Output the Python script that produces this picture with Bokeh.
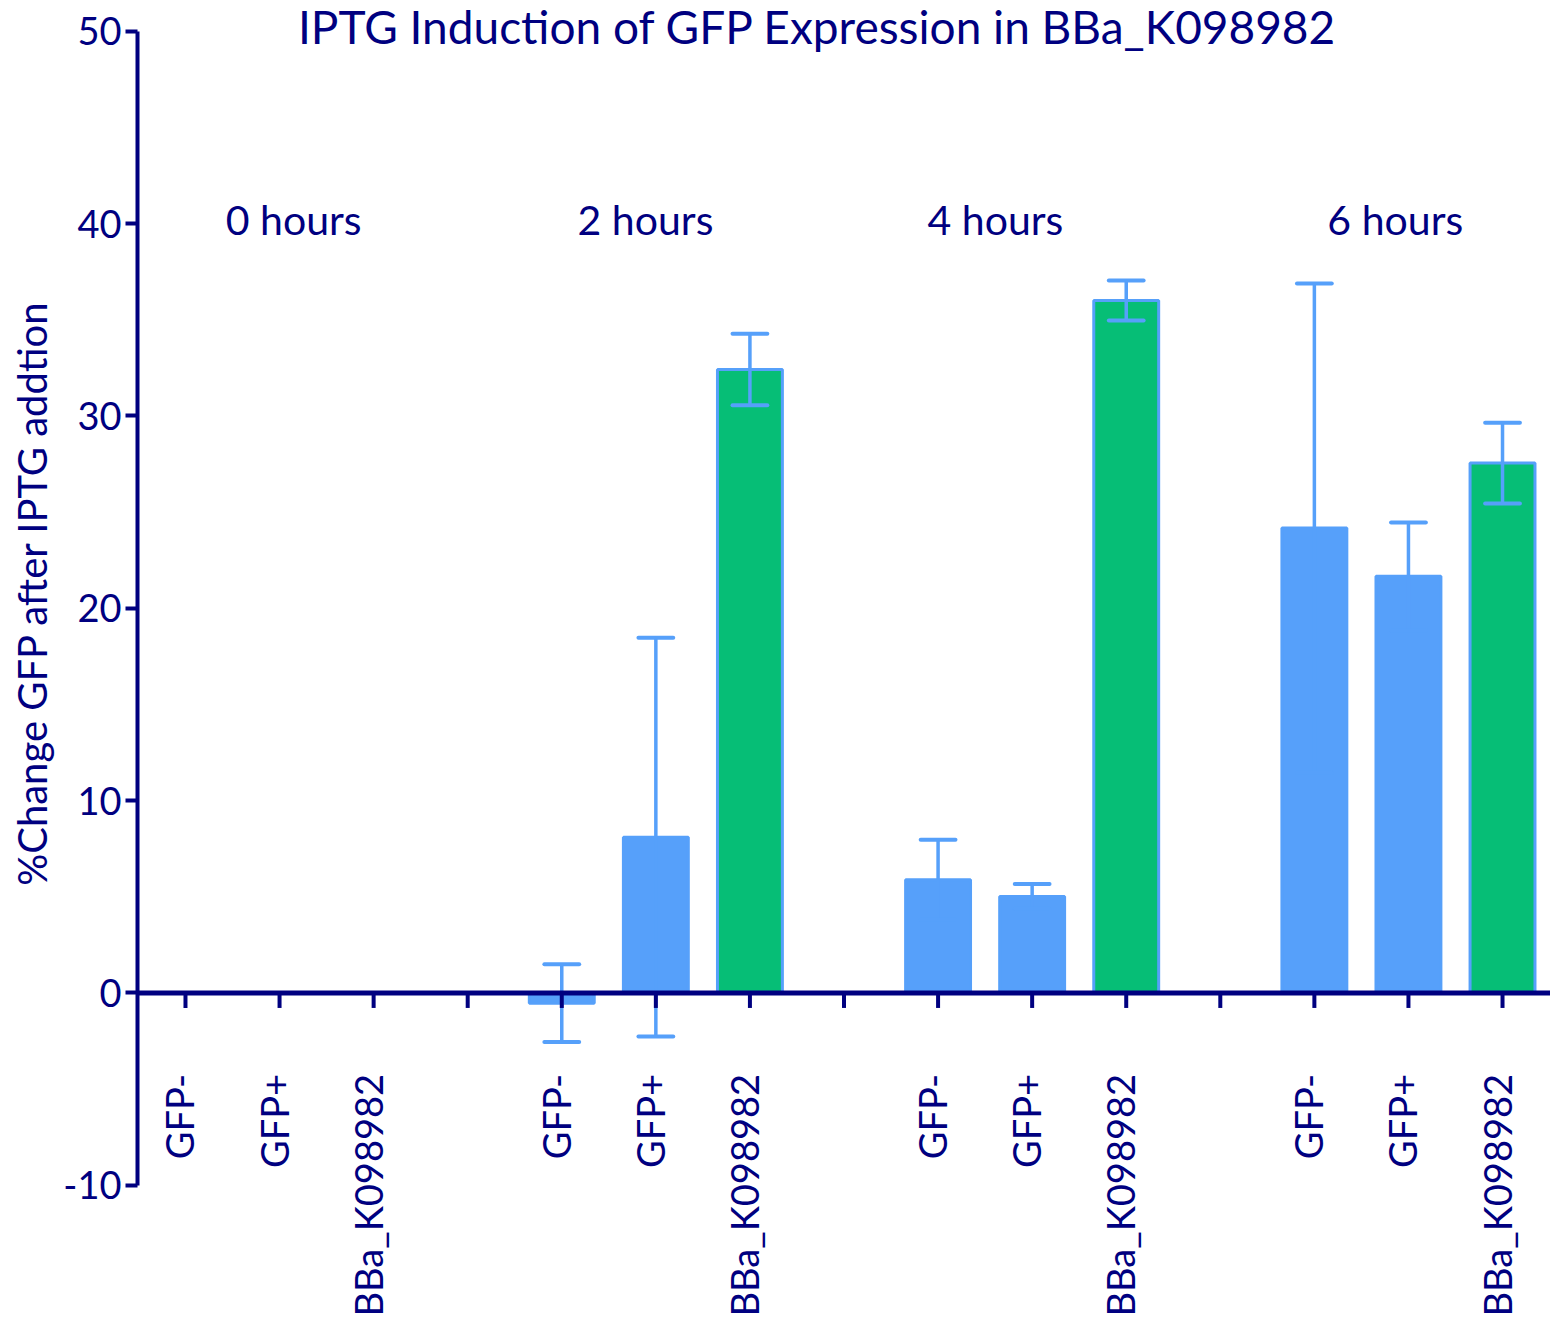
import math
from bokeh.plotting import figure
from bokeh.models import Range1d, FixedTicker, Span, ColumnDataSource, Label, Title
from bokeh.core.properties import value
from bokeh.embed import file_html
from bokeh.resources import INLINE

# ---- data ----
slot_labels = ["GFP-", "GFP+", "BBa_K098982", "",
               "GFP-", "GFP+", "BBa_K098982", "",
               "GFP-", "GFP+", "BBa_K098982", "",
               "GFP-", "GFP+", "BBa_K098982"]
bar_slots = [0, 1, 2, 4, 5, 6, 8, 9, 10, 12, 13, 14]
bar_means = [0.0, 0.0, 0.0, -0.53, 8.10, 32.42, 5.89, 5.02, 36.0, 24.17, 21.66, 27.55]
bar_errors = [0.0, 0.0, 0.0, 2.02, 10.37, 1.86, 2.08, 0.64, 1.04, 12.72, 2.80, 2.10]
bar_kinds = ["ctrl", "ctrl", "part", "ctrl", "ctrl", "part",
             "ctrl", "ctrl", "part", "ctrl", "ctrl", "part"]
group_labels = ["0 hours", "2 hours", "4 hours", "6 hours"]
group_label_x = [1.15, 4.89, 8.61, 12.86]
group_label_y = 40.2
y_ticks = [-10, 0, 10, 20, 30, 40, 50]
y_tick_text = {-10: "-10"}
title_text = "IPTG Induction of GFP Expression in BBa_K098982"
y_title = "%Change GFP after IPTG addtion"

NAVY = "#000080"
BLUE = "#56A0FA"
GREEN = "#06BE76"
FONT = "Lato"

p = figure(width=1550, height=1320, output_backend="svg", toolbar_location=None,
           x_range=Range1d(-0.510, 14.51), y_range=Range1d(-17.03, 51.60),
           x_axis_type=None, min_border_left=137, min_border_right=0,
           min_border_top=0, min_border_bottom=0)
p.outline_line_color = None
p.grid.visible = False
p.background_fill_color = "white"
p.border_fill_color = "white"

# y axis
ya = p.yaxis[0]
ya.bounds = (-10, 50)
ya.ticker = FixedTicker(ticks=y_ticks)
ya.major_label_overrides = y_tick_text
ya.minor_tick_line_color = None
ya.axis_line_color = NAVY
ya.axis_line_width = 4
ya.major_tick_line_color = NAVY
ya.major_tick_line_width = 4
ya.major_tick_out = 12
ya.major_tick_in = 0
ya.major_label_standoff = 4
ya.major_label_text_font = FONT
ya.major_label_text_font_size = "38px"
ya.major_label_text_color = NAVY

# y axis title (left side panel)
p.add_layout(Title(text=y_title, align="right", offset=300, standoff=10,
                   text_font=FONT, text_font_size="40px", text_font_style="normal",
                   text_color=NAVY), "left")

# bars
colors = [BLUE if k == "ctrl" else GREEN for k in bar_kinds]
src = ColumnDataSource(dict(x=bar_slots, top=bar_means, color=colors))
p.vbar(x="x", top="top", bottom=0, width=0.69, fill_color="color",
       line_color=BLUE, line_width=3, source=src)

# error bars
lo = [m - e for m, e in zip(bar_means, bar_errors)]
hi = [m + e for m, e in zip(bar_means, bar_errors)]
cap = 0.185
p.segment(x0=bar_slots, y0=lo, x1=bar_slots, y1=hi, line_color=BLUE,
          line_width=3.5)
p.segment(x0=[x - cap for x in bar_slots], y0=hi, x1=[x + cap for x in bar_slots],
          y1=hi, line_color=BLUE, line_width=4, line_cap="round")
p.segment(x0=[x - cap for x in bar_slots], y0=lo, x1=[x + cap for x in bar_slots],
          y1=lo, line_color=BLUE, line_width=4, line_cap="round")

# x axis (at y = 0)
slots = list(range(len(slot_labels)))
p.ray(x=slots, y=[0] * len(slots), length=15, length_units="screen",
      angle=-math.pi / 2, line_color=NAVY, line_width=4)
p.add_layout(Span(location=0, dimension="width", line_color=NAVY, line_width=5))
p.text(x=slots, y=[0] * len(slots), text=slot_labels, angle=math.pi / 2,
       x_offset=-6, y_offset=81, text_align="right", text_baseline="middle",
       text_font=value(FONT), text_font_size="38px", text_color=NAVY)

# group labels
p.text(x=group_label_x, y=[group_label_y] * len(group_labels), text=group_labels,
       text_align="center", text_baseline="middle", text_font=value(FONT),
       text_font_size="41px", text_color=NAVY)

# title
p.add_layout(Label(x=6.72, y=50.25, text=title_text, text_align="center",
                   text_baseline="middle", text_font=FONT, text_font_size="46px",
                   text_color=NAVY))

open("out.html", "w").write(file_html(p, INLINE))
